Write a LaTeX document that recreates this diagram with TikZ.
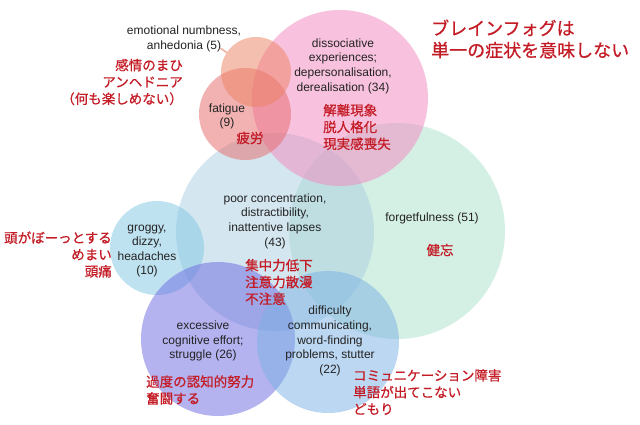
\documentclass[tikz,border=0pt]{standalone}
\usepackage{fontspec}
\setmainfont{Liberation Sans}
\newfontfamily\jpfont[FakeBold=0.7]{Noto Sans CJK JP}
\definecolor{txt}{RGB}{35,35,35}
\definecolor{jpred}{RGB}{196,28,38}
\definecolor{cemo}{RGB}{237,129,97}
\definecolor{cfat}{RGB}{231,103,103}
\definecolor{cdis}{RGB}{243,135,191}
\definecolor{cpoor}{RGB}{171,207,225}
\definecolor{cforg}{RGB}{171,225,203}
\definecolor{cgrog}{RGB}{129,199,229}
\definecolor{cexc}{RGB}{107,103,225}
\definecolor{cdiff}{RGB}{123,177,229}
\tikzset{
  venn/.style={circle, inner sep=0pt, outer sep=0pt, draw=none, fill opacity=0.5},
  en/.style={font=\fontsize{12}{14.6}\selectfont, text=txt, align=center, inner sep=0pt},
  jp/.style={font=\jpfont\fontsize{13.5}{16.8}\selectfont, text=jpred, inner sep=0pt},
  jptitle/.style={font=\jpfont\fontsize{18}{22}\selectfont, text=jpred, inner sep=0pt, align=left},
  leader/.style={draw=cemo!60, line width=1.6pt},
}
\begin{document}
\begin{tikzpicture}[x=1pt, y=-1pt]
\useasboundingbox (0,0) rectangle (640,425);
\fill[white] (0,0) rectangle (640,425);
% circles
\node[venn, fill=cforg, minimum size=216pt] (forg) at (397,231) {};
\node[venn, fill=cpoor, minimum size=198pt] (poor) at (275,232) {};
\node[venn, fill=cgrog, minimum size=94pt] (grog) at (157,248) {};
\node[venn, fill=cexc, minimum size=154pt] (exc) at (218,339) {};
\node[venn, fill=cdiff, minimum size=142pt] (diff) at (328,342) {};
\node[venn, fill=cdis, minimum size=176pt] (dis) at (340,98) {};
\node[venn, fill=cfat, minimum size=92pt] (fat) at (245,114) {};
\node[venn, fill=cemo, minimum size=70pt] (emo) at (256,72) {};
% English labels
\node[en] (lemo) at (184,39) {emotional numbness,\\anhedonia (5)};
\coordinate (leadstart) at (220,48);
\draw[leader] (leadstart) -- (emo);
\node[en] (ldis) at (343,66) {dissociative\\experiences;\\depersonalisation,\\derealisation (34)};
\node[en] (lfat) at (227,116.5) {fatigue\\(9)};
\node[en] (lpoor) at (275,221) {poor concentration,\\distractibility,\\inattentive lapses\\(43)};
\node[en] (lforg) at (432,218) {forgetfulness (51)};
\node[en] (lgrog) at (147,251) {groggy,\\dizzy,\\headaches\\(10)};
\node[en] (lexc) at (203,341) {excessive\\cognitive effort;\\struggle (26)};
\node[en] (ldiff) at (330,341) {difficulty\\communicating,\\word-finding\\problems, stutter\\(22)};
% Japanese labels
\node[jptitle, anchor=west] (title) at (431,39) {ブレインフォグは\\単一の症状を意味しない};
\node[jp, anchor=east, align=right] (jemo) at (183,82) {感情のまひ\\アンヘドニア\\（何も楽しめない）};
\node[jp] (jfat) at (250,138) {疲労};
\node[jp, anchor=west, align=left] (jdis) at (323,127) {解離現象\\脱人格化\\現実感喪失};
\node[jp] (jforg) at (440,250) {健忘};
\node[jp, anchor=west, align=left] (jpoor) at (245,282) {集中力低下\\注意力散漫\\不注意};
\node[jp, anchor=east, align=right] (jgrog) at (112,254.5) {頭がぼーっとする\\めまい\\頭痛};
\node[jp, anchor=west, align=left] (jexc) at (146,390) {過度の認知的努力\\奮闘する};
\node[jp, anchor=west, align=left] (jdiff) at (353,392) {コミュニケーション障害\\単語が出てこない\\どもり};
\end{tikzpicture}
\end{document}
